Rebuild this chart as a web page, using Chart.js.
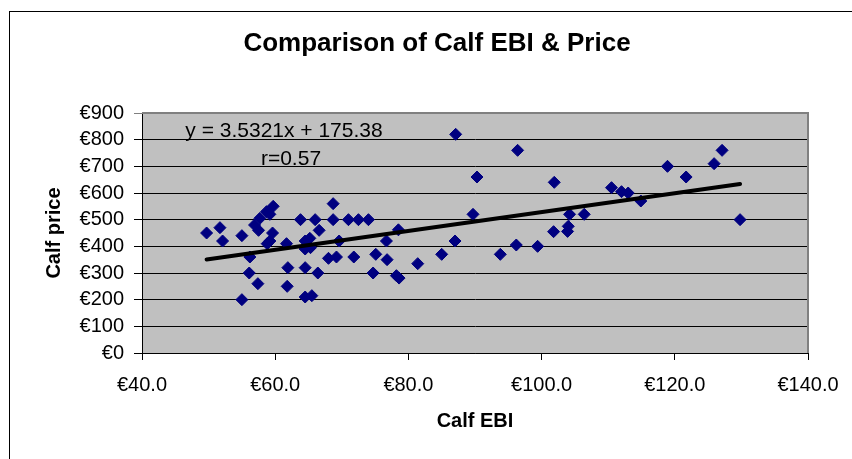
<!DOCTYPE html>
<html>
<head>
<meta charset="utf-8">
<script src="https://cdn.jsdelivr.net/npm/chart.js@4/dist/chart.umd.min.js"></script>
<style>
  html, body { margin: 0; padding: 0; background: #fff; }
  #wrap { width: 852px; height: 459px; position: relative; }
</style>
</head>
<body>
<div id="wrap"><canvas id="myChart" width="852" height="459"></canvas></div>
<script>
  // calf EBI (x) and calf price (y)
  const ebi = [
    49.7, 51.7, 52.1, 55.0, 55.0, 56.2, 56.1, 57.4, 56.9, 57.7,
    57.5, 58.7, 59.2, 59.7, 59.6, 59.2, 58.8, 61.7, 61.9, 61.8,
    63.8, 64.5, 64.5, 64.5, 64.5, 65.5, 65.2, 65.3, 66.0, 66.6,
    66.4, 68.7, 68.7, 68.0, 69.2, 69.6, 71.0, 71.8, 72.5, 74.0,
    74.7, 75.1, 76.7, 76.8, 78.5, 78.2, 78.6, 81.4, 85.0, 87.1,
    87.0, 89.7, 90.3, 93.8, 96.2, 96.4, 99.4, 101.8, 101.9, 103.9,
    104.0, 104.2, 106.4, 110.5, 112.0, 113.0, 114.9, 118.9, 121.7, 125.9,
    127.1, 129.8
  ];
  const price = [
    450, 470, 420, 440, 200, 360, 300, 260, 480, 505,
    460, 530, 520, 550, 450, 420, 410, 410, 320, 250,
    500, 420, 390, 320, 210, 215, 430, 395, 500, 460,
    300, 560, 500, 355, 360, 420, 500, 360, 500, 500,
    300, 370, 420, 350, 462, 290, 281, 335, 370, 820,
    420, 520, 660, 370, 405, 760, 400, 455, 640, 456,
    475, 520, 520, 620, 605, 600, 570, 700, 660, 710,
    760, 500
  ];
  const slope = 3.5321;
  const intercept = 175.38;
  const xTicks = [40, 60, 80, 100, 120, 140];
  const yTicks = [0, 100, 200, 300, 400, 500, 600, 700, 800, 900];

  const points = ebi.map((x, i) => ({ x: x, y: price[i] }));
  const xMin = Math.min(...ebi), xMax = Math.max(...ebi);
  const trend = [
    { x: xMin, y: slope * xMin + intercept },
    { x: xMax, y: slope * xMax + intercept }
  ];

  const FONT = "'Liberation Sans', Arial, sans-serif";

  const decor = {
    id: 'decor',
    beforeDraw(chart) {
      const { ctx, chartArea: a } = chart;
      ctx.save();
      ctx.fillStyle = '#fff';
      ctx.fillRect(0, 0, chart.width, chart.height);
      // outer frame
      ctx.strokeStyle = '#000';
      ctx.lineWidth = 1;
      ctx.strokeRect(9.5, 11.5, chart.width + 20, chart.height + 20);
      // plot background
      ctx.fillStyle = '#c0c0c0';
      ctx.fillRect(a.left, a.top, a.right - a.left, a.bottom - a.top);
      ctx.restore();
    },
    beforeDatasetsDraw(chart) {
      const { ctx, chartArea: a } = chart;
      ctx.save();
      ctx.strokeStyle = '#808080';
      ctx.lineWidth = 2;
      ctx.beginPath();
      ctx.moveTo(a.left, a.top);
      ctx.lineTo(a.right, a.top);
      ctx.lineTo(a.right, a.bottom);
      ctx.stroke();
      ctx.restore();
    },
    afterDraw(chart) {
      const { ctx } = chart;
      ctx.save();
      ctx.fillStyle = '#000';
      ctx.textAlign = 'center';
      ctx.textBaseline = 'middle';
      ctx.font = 'bold 26px ' + FONT;
      ctx.fillText('Comparison of Calf EBI & Price', 437, 44);
      ctx.font = '21px ' + FONT;
      ctx.fillText('y = ' + slope + 'x + ' + intercept, 284, 131);
      ctx.fillText('r=0.57', 291, 159);
      ctx.restore();
    }
  };

  const config = {
    type: 'scatter',
    data: {
      datasets: [{
        label: 'Calf price',
        data: points,
        pointStyle: 'rectRot',
        pointRadius: 6,
        backgroundColor: '#000080',
        borderColor: '#000080',
        borderWidth: 1,
        order: 2
      }, {
        type: 'line',
        label: 'Trend',
        data: trend,
        borderColor: '#000',
        borderWidth: 4,
        pointRadius: 0,
        borderCapStyle: 'round',
        order: 1
      }]
    },
    options: {
      responsive: false,
      animation: false,
      layout: { padding: { top: 113, right: 44, left: 0, bottom: 0 } },
      plugins: {
        legend: { display: false },
        tooltip: { enabled: false },
        title: { display: false }
      },
      scales: {
        x: {
          type: 'linear',
          min: 40,
          max: 140,
          afterBuildTicks: s => { s.ticks = xTicks.map(v => ({ value: v })); },
          afterFit: s => { s.height = 106; },
          grid: { drawOnChartArea: false, drawTicks: true, tickLength: 7, color: '#000' },
          border: { color: '#000', width: 1 },
          ticks: {
            padding: 13,
            autoSkip: false,
            color: '#000',
            font: { family: FONT, size: 20 },
            maxRotation: 0,
            callback: v => '€' + Number(v).toFixed(1)
          },
          title: {
            display: true,
            text: 'Calf EBI',
            color: '#000',
            font: { family: FONT, size: 20, weight: 'bold' },
            padding: { top: 0, bottom: 26 }
          }
        },
        y: {
          min: 0,
          max: 900,
          afterBuildTicks: s => { s.ticks = yTicks.map(v => ({ value: v })); },
          afterFit: s => { s.width = 142; },
          grid: {
            color: c => (c.tick && c.tick.value === 900 ? '#808080' : '#000'),
            tickLength: 8,
            lineWidth: 1
          },
          border: { color: '#000', width: 1 },
          ticks: {
            padding: 10,
            autoSkip: false,
            color: '#000',
            font: { family: FONT, size: 20 },
            callback: v => '€' + v
          },
          title: {
            display: true,
            text: 'Calf price',
            color: '#000',
            font: { family: FONT, size: 20, weight: 'bold' },
            padding: { top: 42, bottom: 0 }
          }
        }
      }
    },
    plugins: [decor]
  };

  const myChart = new Chart(document.getElementById('myChart'), config);
</script>
</body>
</html>
